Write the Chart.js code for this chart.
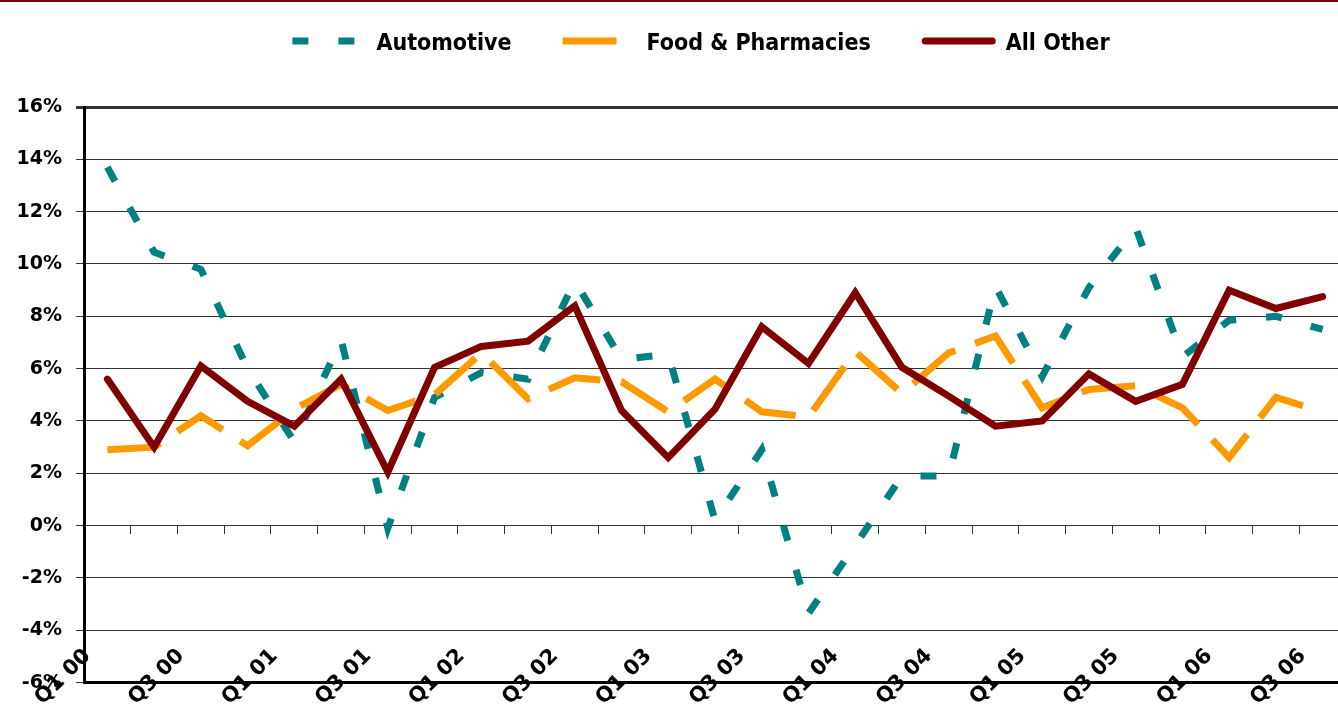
<!DOCTYPE html>
<html>
<head>
<meta charset="utf-8">
<script src="https://cdn.jsdelivr.net/npm/chart.js@4.4.1/dist/chart.umd.min.js"></script>
<style>
  html, body { margin: 0; padding: 0; background: #fff; overflow: hidden; }
  #topbar { width: 1338px; height: 2px; background: #800000; }
  #wrap { width: 1346px; height: 706px; }
</style>
</head>
<body>
<div id="topbar"></div>
<div id="wrap"><canvas id="chart" width="1346" height="706"></canvas></div>
<script>
const quarters = [
  'Q1 00', 'Q2 00', 'Q3 00', 'Q4 00', 'Q1 01', 'Q2 01', 'Q3 01', 'Q4 01',
  'Q1 02', 'Q2 02', 'Q3 02', 'Q4 02', 'Q1 03', 'Q2 03', 'Q3 03', 'Q4 03',
  'Q1 04', 'Q2 04', 'Q3 04', 'Q4 04', 'Q1 05', 'Q2 05', 'Q3 05', 'Q4 05',
  'Q1 06', 'Q2 06', 'Q3 06'
];
const automotive = [13.7, 10.45, 9.8, 6.0, 3.2, 7.1, -0.1, 4.9, 5.85, 5.6, 9.35, 6.35, 6.55, 0.2,
  2.9, -3.35, -0.75, 1.9, 1.9, 9.15, 5.7, 9.1, 11.4, 6.45, 7.85, 8.0, 7.5];
const foodPharmacies = [2.9, 3.0, 4.2, 3.05, 4.45, 5.4, 4.4, 5.0, 6.6, 4.85, 5.65, 5.5, 4.35, 5.6,
  4.35, 4.15, 6.65, 5.05, 6.6, 7.25, 4.5, 5.2, 5.35, 4.5, 2.6, 4.9, 4.35];
const allOther = [5.6, 3.0, 6.1, 4.75, 3.8, 5.6, 2.05, 6.05, 6.85, 7.05, 8.4, 4.4, 2.6, 4.45,
  7.6, 6.2, 8.9, 6.05, 4.95, 3.8, 4.0, 5.8, 4.75, 5.4, 9.0, 8.3, 8.75];
const yMin = -6, yMax = 16, yStep = 2;

const tickFont = { family: '"DejaVu Sans", sans-serif', size: 19, weight: 'bold' };

// legend drawn by hand: line sample + label, centred above the plot
const lineLegend = {
  id: 'lineLegend',
  afterDraw(chart, args, opts) {
    const ctx = chart.ctx;
    ctx.save();
    ctx.font = opts.font;
    const items = chart.data.datasets.map(ds => ({ ds, w: ctx.measureText(ds.label).width }));
    const total = items.reduce((s, it) => s + opts.sample + opts.gap + it.w, 0) + opts.spacing * (items.length - 1);
    let x = opts.center - total / 2;
    items.forEach(({ ds, w }) => {
      ctx.strokeStyle = ds.borderColor;
      ctx.lineWidth = ds.borderWidth;
      ctx.lineCap = ds.borderCapStyle || 'butt';
      ctx.setLineDash(ds.borderDash || []);
      const inset = ctx.lineCap === 'round' ? ds.borderWidth / 2 : 0;
      ctx.beginPath();
      ctx.moveTo(x + inset, opts.lineY);
      ctx.lineTo(x + opts.sample - inset, opts.lineY);
      ctx.stroke();
      ctx.setLineDash([]);
      ctx.fillStyle = '#000';
      ctx.textAlign = 'left';
      ctx.textBaseline = 'middle';
      ctx.fillText(ds.label, x + opts.sample + opts.gap, opts.textY);
      x += opts.sample + opts.gap + w + opts.spacing;
    });
    ctx.restore();
  }
};

const ctx = document.getElementById('chart').getContext('2d');
new Chart(ctx, {
  type: 'line',
  data: {
    labels: quarters,
    datasets: [{
      label: 'Automotive',
      data: automotive,
      borderColor: '#008080',
      borderWidth: 7,
      borderDash: [16, 30],
      order: 2
    }, {
      label: 'Food & Pharmacies',
      data: foodPharmacies,
      borderColor: '#FF9900',
      borderWidth: 7,
      borderDash: [54, 21],
      order: 1
    }, {
      label: 'All Other',
      data: allOther,
      borderColor: '#800000',
      borderWidth: 7,
      borderCapStyle: 'round',
      order: 0
    }]
  },
  options: {
    responsive: false,
    animation: false,
    events: [],
    layout: { padding: { top: 105, right: 0, bottom: 0, left: 0 } },
    elements: {
      point: { radius: 0 },
      line: { tension: 0, fill: false }
    },
    scales: {
      y: {
        min: yMin,
        max: yMax,
        ticks: {
          stepSize: yStep,
          padding: 14,
          color: '#000',
          font: tickFont,
          callback: (v) => v + '%'
        },
        grid: {
          color: '#333',
          lineWidth: (c) => (c.tick && c.tick.value === yMax ? 3 : 1),
          tickLength: 8
        },
        border: { display: true, color: '#000', width: 3 },
        afterFit(scale) { scale.width = 84; }
      },
      // tick marks sitting on the 0% line
      x: {
        type: 'category',
        position: { y: 0 },
        offset: true,
        ticks: { display: false },
        grid: { offset: true, drawOnChartArea: false, drawTicks: true, tickLength: 8, color: '#333' },
        border: { display: false }
      },
      // labels along the bottom edge, mirrored so they sit over the axis line
      x2: {
        type: 'category',
        axis: 'x',
        position: 'bottom',
        offset: true,
        grid: { display: false, drawTicks: false },
        border: { display: true, color: '#000', width: 3 },
        ticks: {
          autoSkip: false,
          maxRotation: 45,
          minRotation: 45,
          mirror: true,
          padding: 21,
          labelOffset: -2,
          color: '#000',
          font: { family: '"DejaVu Sans", sans-serif', size: 21, weight: 'bold' },
          callback(value, index) { return index % 2 === 0 ? this.getLabelForValue(value) : ''; }
        },
        afterFit(scale) {
          scale.height = 24;
          scale.paddingLeft = 0;
          scale.paddingRight = 0;
        }
      }
    },
    plugins: {
      legend: { display: false },
      tooltip: { enabled: false },
      lineLegend: {
        font: 'bold 23px "Liberation Sans Narrow", "DejaVu Sans Condensed", sans-serif',
        center: 701,
        lineY: 39,
        textY: 42,
        sample: 74,
        gap: 10,
        spacing: 51
      }
    }
  },
  plugins: [lineLegend]
});
</script>
</body>
</html>
